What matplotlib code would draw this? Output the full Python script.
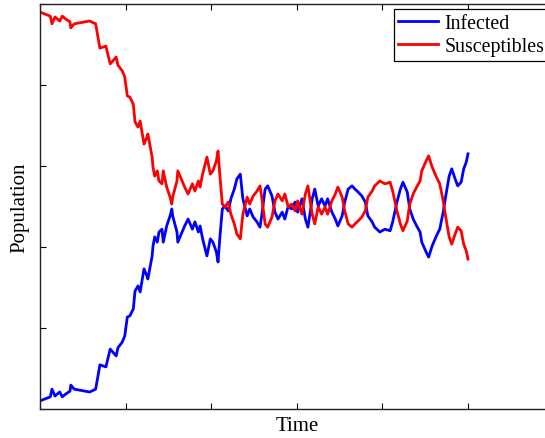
import matplotlib
matplotlib.use("Agg")
import matplotlib.pyplot as plt
import numpy as np

plt.rcParams['font.family'] = ['Liberation Serif', 'DejaVu Serif']

total_population = 100

time = [0, 1.2, 1.4, 1.75, 2.3, 2.6, 3.0, 3.5, 3.6, 4.0, 5.8, 6.5, 7.0, 7.7, 8.2,
        8.9, 9.1, 9.6, 9.9, 10.2, 10.5, 10.9, 11.1, 11.45, 11.7, 12.15, 12.5,
        12.6, 13.1, 13.2, 13.4, 13.7, 13.9, 14.25, 14.4, 14.8, 15.2, 15.4, 15.5,
        16.0, 16.1, 16.6, 16.9, 17.3, 17.8, 18.1, 18.5, 18.7, 19.0, 19.5, 19.9,
        20.2, 20.6, 20.8, 21.0, 21.3, 21.6, 22.0, 22.3, 22.7, 23.0, 23.4,
        23.7, 24.2, 24.5, 24.9, 25.35, 25.7, 25.9, 26.3, 26.6, 27.1, 27.45,
        27.8, 28.3, 28.6, 29.0, 29.4, 29.8, 30.1, 30.6, 31.0, 31.3, 31.8, 32.1,
        32.5, 32.9, 33.3, 33.6, 34.1, 34.5, 34.8, 35.3, 35.6, 36.0, 36.45,
        36.8, 37.15, 37.6, 38.0, 38.3, 38.8, 39.1, 39.7, 40.3, 40.9, 41.2,
        41.7, 42.1, 42.4, 42.9, 43.2, 43.6, 44.0, 44.4, 44.6, 45.1, 45.4, 45.8,
        46.3, 46.7, 47.1, 47.4, 47.8, 48.1, 48.5, 48.8, 49.2, 49.5, 49.8, 50.0]
infected = [2.0, 3.0, 4.9, 3.2, 4.2, 3.0, 3.7, 4.4, 5.9, 4.9, 4.2, 4.9, 10.9, 10.4,
            14.8, 13.1, 15.1, 16.5, 18.0, 22.7, 23.0, 24.7, 29.1, 30.4, 28.9,
            34.6, 32.8, 32.1, 37.8, 40.2, 42.5, 41.2, 43.7, 44.4, 41.2, 45.2,
            47.7, 49.4, 47.7, 43.7, 41.2, 43.7, 45.2, 46.9, 44.4, 46.2, 43.7,
            45.2, 42.0, 37.8, 42.0, 41.2, 38.8, 36.3, 42.0, 49.4, 50.1, 48.9,
            51.9, 54.3, 56.8, 58.0,
            51.9, 47.7, 49.4, 47.4, 46.2, 44.9, 47.7, 54.3, 55.1, 52.6, 48.6,
            46.9, 48.6, 46.9, 50.1, 49.4, 51.1, 48.6, 51.9, 46.9, 44.9, 51.9,
            54.3, 50.1, 51.9, 50.1, 51.9, 48.6, 46.9, 45.2, 47.7, 51.1, 54.3,
            55.1, 54.3, 53.6, 52.6, 51.1, 47.7, 46.2, 44.9, 43.7, 44.4, 44.0,
            46.2, 51.1, 54.3, 56.0, 53.6, 49.4, 46.9, 45.2, 43.7, 41.2, 38.8,
            37.5, 40.2, 42.7, 44.4, 48.6, 52.6, 57.5, 59.3, 56.8, 55.1, 56.0,
            59.3, 61.0, 63.0]
susceptibles = [total_population - v for v in infected]

fig = plt.figure(figsize=(5.45, 4.39), dpi=100)
ax = fig.add_axes([40 / 545, 29 / 439, 513.6 / 545, 405 / 439])

ax.plot(time, infected, color='#0000ff', lw=2.0, label='Infected')
ax.plot(time, susceptibles, color='#ff0000', lw=2.0, label='Susceptibles')

ax.set_xlim(0, 60)
ax.set_ylim(0, 100)
ax.set_xticks(np.arange(0, 61, 10))
ax.set_yticks(np.arange(0, 101, 20))
ax.tick_params(direction='in', length=4, width=0.8, top=True, right=True,
               labelbottom=False, labelleft=False)
for s in ax.spines.values():
    s.set_linewidth(1.0)
    s.set_color('#222222')

ax.set_xlabel('Time', fontsize=15, labelpad=5)
ax.set_ylabel('Population', fontsize=15, labelpad=8)

leg = ax.legend(loc='upper right', bbox_to_anchor=(549 / 545, 1 - 10 / 439),
                bbox_transform=fig.transFigure, fontsize=14.3, fancybox=False,
                framealpha=1, edgecolor='black', borderpad=0.25,
                handlelength=2.0, handletextpad=0.3, labelspacing=0.2,
                borderaxespad=0)
leg.get_frame().set_linewidth(0.9)

fig.savefig('out.png', dpi=100)
